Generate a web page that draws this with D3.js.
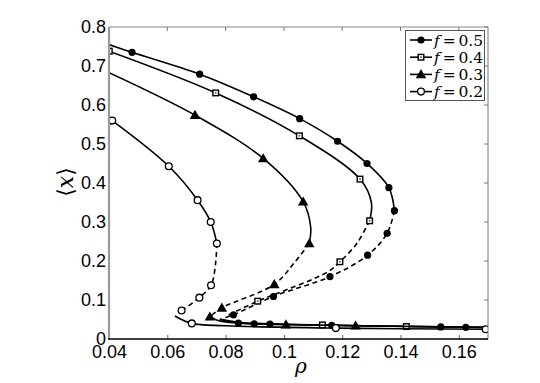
<!DOCTYPE html>
<html>
<head>
<meta charset="utf-8">
<script src="https://cdn.jsdelivr.net/npm/d3@7"></script>
<style>
  body { margin: 0; background: #fff; }
  svg { display: block; }
</style>
</head>
<body>
<svg id="chart" width="540" height="383"></svg>
<script>
// tick labels
const xTicks = [0.04, 0.06, 0.08, 0.1, 0.12, 0.14, 0.16];
const yTicks = [0, 0.1, 0.2, 0.3, 0.4, 0.5, 0.6, 0.7, 0.8];

// f values in legend order
const fValues = [0.5, 0.4, 0.3, 0.2];
const markerTypes = ["dot", "square", "triangle", "circle"];

// branches as [rho, <x>] : stable upper (solid), unstable (dashed), stable lower (solid)
const upper05 = [[0.04, 0.755], [0.0479, 0.735], [0.0711, 0.679], [0.0896, 0.621], [0.1054, 0.565], [0.1184, 0.507], [0.1285, 0.450], [0.1360, 0.388], [0.1379, 0.329]];
const dashed05 = [[0.1379, 0.329], [0.1354, 0.271], [0.1287, 0.215], [0.1158, 0.160], [0.0964, 0.109], [0.0827, 0.062], [0.0790, 0.052]];
const lower05 = [[0.0780, 0.050], [0.0844, 0.041], [0.0898, 0.039], [0.0952, 0.038], [0.1164, 0.035], [0.1538, 0.031], [0.1624, 0.030], [0.1700, 0.029]];
const marks05 = [[0.0479, 0.735], [0.0711, 0.679], [0.0896, 0.621], [0.1054, 0.565], [0.1184, 0.507], [0.1285, 0.450], [0.1360, 0.388], [0.1379, 0.329], [0.1354, 0.271], [0.1287, 0.215], [0.1158, 0.160], [0.0964, 0.109], [0.0827, 0.062], [0.0844, 0.041], [0.0898, 0.039], [0.0952, 0.038], [0.1164, 0.035], [0.1538, 0.031], [0.1624, 0.030]];

const upper04 = [[0.04, 0.738], [0.0766, 0.631], [0.1053, 0.521], [0.1261, 0.410], [0.1300, 0.350], [0.1294, 0.303]];
const dashed04 = [[0.1294, 0.303], [0.1250, 0.245], [0.1192, 0.198], [0.1150, 0.172], [0.0964, 0.113], [0.0910, 0.097], [0.0798, 0.057]];
const lower04 = [[0.0780, 0.051], [0.0855, 0.042], [0.1000, 0.038], [0.1132, 0.036], [0.1420, 0.032], [0.1700, 0.030]];
const marks04 = [[0.0401, 0.738], [0.0766, 0.631], [0.1053, 0.521], [0.1261, 0.410], [0.1294, 0.303], [0.1192, 0.198], [0.0910, 0.097], [0.1132, 0.036], [0.1420, 0.032]];

const upper03 = [[0.04, 0.683], [0.0695, 0.574], [0.0929, 0.463], [0.1066, 0.352], [0.1092, 0.285], [0.1087, 0.245]];
const dashed03 = [[0.1087, 0.245], [0.1035, 0.195], [0.0967, 0.140], [0.0787, 0.080], [0.0746, 0.057]];
const lower03 = [[0.0746, 0.057], [0.0780, 0.046], [0.0900, 0.039], [0.1007, 0.037], [0.1246, 0.034], [0.1700, 0.030]];
const marks03 = [[0.0695, 0.574], [0.0929, 0.463], [0.1066, 0.352], [0.1087, 0.245], [0.0967, 0.140], [0.0787, 0.080], [0.0746, 0.057], [0.1007, 0.037], [0.1246, 0.034]];

const upper02 = [[0.0411, 0.560], [0.0605, 0.443], [0.0704, 0.356], [0.0749, 0.300], [0.0770, 0.245]];
const dashed02 = [[0.0770, 0.245], [0.0765, 0.190], [0.0750, 0.138], [0.0710, 0.106], [0.0649, 0.073]];
const lower02 = [[0.0626, 0.059], [0.0684, 0.040], [0.0800, 0.034], [0.1178, 0.028], [0.1700, 0.025]];
const marks02 = [[0.0411, 0.560], [0.0605, 0.443], [0.0704, 0.356], [0.0749, 0.300], [0.0770, 0.245], [0.0750, 0.138], [0.0710, 0.106], [0.0649, 0.073], [0.0684, 0.040], [0.1178, 0.028], [0.1692, 0.025]];

const seriesList = [
  { upper: upper05, dashed: dashed05, lower: lower05, marks: marks05 },
  { upper: upper04, dashed: dashed04, lower: lower04, marks: marks04 },
  { upper: upper03, dashed: dashed03, lower: lower03, marks: marks03 },
  { upper: upper02, dashed: dashed02, lower: lower02, marks: marks02 }
];

const svg = d3.select('#chart');
const plotLeft = 109, plotRight = 488, plotTop = 27, plotBottom = 339;

const x = d3.scaleLinear().domain([0.04, 0.17]).range([plotLeft, plotRight]);
const y = d3.scaleLinear().domain([0, 0.8]).range([plotBottom, plotTop]);

svg.append('clipPath').attr('id', 'plotClip')
  .append('rect').attr('x', plotLeft).attr('y', plotTop - 5).attr('width', plotRight - plotLeft).attr('height', plotBottom - plotTop + 5);

const line = d3.line().x(d => x(d[0])).y(d => y(d[1])).curve(d3.curveCatmullRom.alpha(0.5));

// draws one marker of the given type at (cx, cy)
function drawMarker(g, type, cx, cy) {
  if (type === 'dot') {
    g.append('circle').attr('cx', cx).attr('cy', cy).attr('r', 3.6).attr('fill', '#000');
  } else if (type === 'circle') {
    g.append('circle').attr('cx', cx).attr('cy', cy).attr('r', 3.4)
      .attr('fill', '#fff').attr('stroke', '#000').attr('stroke-width', 1.3);
  } else if (type === 'square') {
    g.append('rect').attr('x', cx - 2.8).attr('y', cy - 2.8).attr('width', 5.6).attr('height', 5.6)
      .attr('fill', '#fff').attr('stroke', '#000').attr('stroke-width', 1.4);
    g.append('rect').attr('x', cx - 0.8).attr('y', cy - 0.8).attr('width', 1.6).attr('height', 1.6).attr('fill', '#555');
  } else {
    g.append('path').attr('transform', `translate(${cx},${cy + 0.8})`)
      .attr('d', d3.symbol().type(d3.symbolTriangle).size(48)()).attr('fill', '#000');
  }
}

const plotG = svg.append('g').attr('clip-path', 'url(#plotClip)');

seriesList.forEach((s, i) => {
  const g = plotG.append('g');
  g.append('path').attr('d', line(s.upper)).attr('fill', 'none').attr('stroke', '#000').attr('stroke-width', 1.6);
  g.append('path').attr('d', line(s.dashed)).attr('fill', 'none').attr('stroke', '#000').attr('stroke-width', 1.6)
    .attr('stroke-dasharray', '5,3.5');
  g.append('path').attr('d', line(s.lower)).attr('fill', 'none').attr('stroke', '#000').attr('stroke-width', 1.6);
  s.marks.forEach(m => drawMarker(g, markerTypes[i], x(m[0]), y(m[1])));
});

// axes
const xAxis = svg.append('g').attr('transform', `translate(0,${plotBottom})`)
  .call(d3.axisBottom(x).tickValues(xTicks).tickSize(-4).tickPadding(8).tickFormat(d3.format('~g')));
const yAxis = svg.append('g').attr('transform', `translate(${plotLeft},0)`)
  .call(d3.axisLeft(y).tickValues(yTicks).tickSize(0).tickPadding(3).tickFormat(d3.format('~g')));
[xAxis, yAxis].forEach(a => {
  a.select('.domain').remove();
  a.selectAll('text').attr('font-family', 'Liberation Sans, Arial, sans-serif').attr('font-size', 18).attr('fill', '#000');
  a.selectAll('line').attr('stroke', '#666');
});
xAxis.selectAll('text').attr('dy', '0.62em');
yAxis.selectAll('text').attr('dy', '0.28em');

// top and right ticks
svg.append('g').selectAll('line').data(xTicks).join('line')
  .attr('x1', d => x(d)).attr('x2', d => x(d)).attr('y1', plotTop).attr('y2', plotTop + 4).attr('stroke', '#777');
svg.append('g').selectAll('line').data(yTicks).join('line')
  .attr('x1', plotRight).attr('x2', plotRight - 4).attr('y1', d => y(d)).attr('y2', d => y(d)).attr('stroke', '#777');

// box
svg.append('line').attr('x1', plotLeft).attr('x2', plotRight).attr('y1', plotTop).attr('y2', plotTop).attr('stroke', '#888').attr('stroke-width', 1);
svg.append('line').attr('x1', plotRight).attr('x2', plotRight).attr('y1', plotTop).attr('y2', plotBottom).attr('stroke', '#777').attr('stroke-width', 1);
svg.append('line').attr('x1', plotLeft).attr('x2', plotLeft).attr('y1', plotTop).attr('y2', plotBottom).attr('stroke', '#999').attr('stroke-width', 2.2);
svg.append('line').attr('x1', plotLeft - 1).attr('x2', plotRight).attr('y1', plotBottom).attr('y2', plotBottom).attr('stroke', '#000').attr('stroke-width', 1.5);

// axis labels
svg.append('text').attr('x', 301).attr('y', 373).attr('text-anchor', 'middle')
  .attr('font-family', 'DejaVu Serif, serif').attr('font-style', 'italic').attr('font-size', 20).text('ρ');
const yl = svg.append('text').attr('transform', 'translate(73,182) rotate(-90)').attr('text-anchor', 'middle')
  .attr('font-family', 'DejaVu Serif, serif').attr('font-size', 22);
yl.append('tspan').text('⟨');
yl.append('tspan').attr('font-style', 'italic').text('x');
yl.append('tspan').text('⟩');

// legend
const legend = svg.append('g');
legend.append('rect').attr('x', 405.5).attr('y', 30.5).attr('width', 79).attr('height', 70)
  .attr('fill', '#fff').attr('stroke', '#555').attr('stroke-width', 1);
fValues.forEach((f, i) => {
  const ly = 40 + i * 17.2;
  legend.append('line').attr('x1', 410).attr('x2', 432).attr('y1', ly).attr('y2', ly).attr('stroke', '#000').attr('stroke-width', 1.6);
  drawMarker(legend, markerTypes[i], 421, ly);
  const t = legend.append('text').attr('x', 434).attr('y', ly + 5.5)
    .attr('font-family', 'DejaVu Serif, serif').attr('font-size', 15.5)
    .attr('textLength', 49).attr('lengthAdjust', 'spacing');
  t.append('tspan').attr('font-style', 'italic').text('f');
  t.append('tspan').text('\u2009=\u2009' + f);
});
</script>
</body>
</html>
